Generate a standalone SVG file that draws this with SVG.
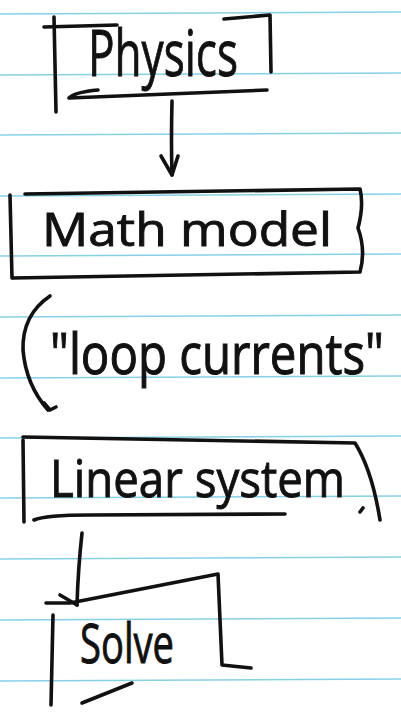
<svg xmlns="http://www.w3.org/2000/svg" width="401" height="719" viewBox="0 0 401 719">
<style>
.rule{stroke:#86d0e6;stroke-width:1.6;fill:none}
.ink{stroke:#111;stroke-width:3.6;fill:none;stroke-linecap:round;stroke-linejoin:round}
.t{font-family:"Open Sans","DejaVu Sans",sans-serif;fill:#111;stroke:#111;stroke-width:0.9;font-weight:400}
</style>
<rect width="401" height="719" fill="#fff"/>
<g id="paper">
<path class="rule" d="M0 14 L401 12"/>
<path class="rule" d="M0 75 L401 73"/>
<path class="rule" d="M0 135 L401 133"/>
<path class="rule" d="M0 196 L401 194"/>
<path class="rule" d="M0 256 L401 254"/>
<path class="rule" d="M0 317 L401 315"/>
<path class="rule" d="M0 378 L401 376"/>
<path class="rule" d="M0 438 L401 436"/>
<path class="rule" d="M0 498 L401 496"/>
<path class="rule" d="M0 559 L401 557"/>
<path class="rule" d="M0 620 L401 618"/>
<path class="rule" d="M0 681 L401 679"/>
</g>
<g id="connectors">
<path class="ink" d="M172 101 Q171 140 172 175"/>
<path class="ink" d="M161 156 L172 175 L178 156"/>
<path class="ink" d="M50 296 Q22 315 23 350 Q26 385 48 410"/>
<path class="ink" d="M44 403 L50 410 L56 407"/>
<path class="ink" d="M82 533 Q78 570 77 605"/>
<path class="ink" d="M60 595 L77 605"/>
</g>
<g id="physics">
<path class="ink" d="M44 27 L117 25"/>
<path class="ink" d="M54 17 L56 112"/>
<path class="ink" d="M224 19 L270 15 L271 72"/>
<path class="ink" d="M98 90 Q75 92 69 98 L267 90"/>
<text class="t" x="88" y="76" font-size="64" textLength="150" lengthAdjust="spacingAndGlyphs">Physics</text>
</g>
<g id="math-model">
<path class="ink" d="M10 195 L12 278"/>
<path class="ink" d="M25 194 L360 189 Q364 205 358 228 Q366 250 360 272 L13 278"/>
<text class="t" x="42" y="246" font-size="46" textLength="290" lengthAdjust="spacingAndGlyphs">Math  model</text>
</g>
<g id="loop-currents">
<text class="t" x="50" y="0" transform="translate(0 374) scale(1 1.17)" font-size="48" textLength="334" lengthAdjust="spacingAndGlyphs">"loop currents"</text>
</g>
<g id="linear-system">
<path class="ink" d="M23 440 L24 522"/>
<path class="ink" d="M23 437 L355 443 Q372 470 380 520"/>
<path class="ink" d="M34 520 Q45 515 90 515 L285 514"/>
<path class="ink" d="M360 512 L363 508"/>
<text class="t" x="50" y="497" font-size="52" textLength="295" lengthAdjust="spacingAndGlyphs">Linear  system</text>
</g>
<g id="solve">
<path class="ink" d="M46 603 L70 603 L218 574 L222 665 L251 668"/>
<path class="ink" d="M53 615 L51 705"/>
<path class="ink" d="M82 703 L132 683"/>
<text class="t" x="80" y="663" font-size="54" textLength="94" lengthAdjust="spacingAndGlyphs">Solve</text>
</g>
</svg>
